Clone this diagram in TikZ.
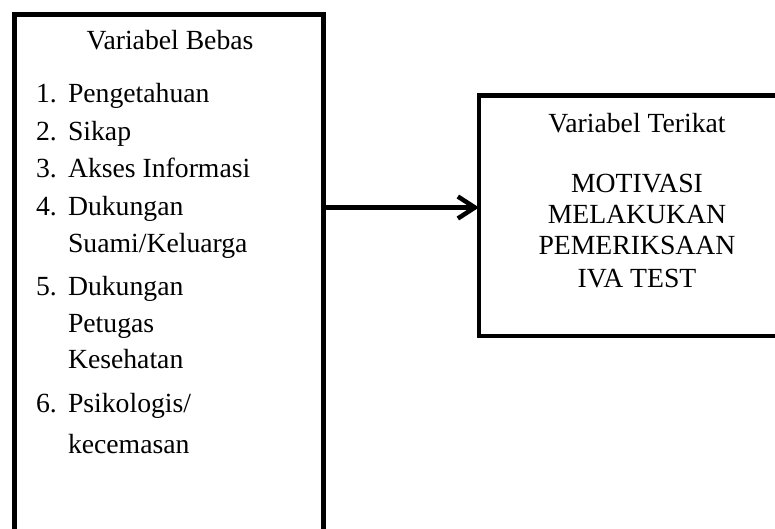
\documentclass[tikz,border=0pt]{standalone}
\usepackage{fontspec}
\setmainfont{Liberation Serif}
\usetikzlibrary{arrows.meta}
\begin{document}
\begin{tikzpicture}[x=1pt,y=-1pt,
  box/.style={draw=black, line width=4.5pt, rectangle, inner sep=0pt, outer sep=0pt},
  txt/.style={inner sep=0pt, outer sep=0pt, anchor=base west, font=\fontsize{27.7}{31}\selectfont},
  ctxt/.style={inner sep=0pt, outer sep=0pt, anchor=base, font=\fontsize{27.7}{31}\selectfont},
  arr/.style={line width=4.5pt, -{Straight Barb[length=17pt,width=22pt,line width=4.5pt]}}]
\clip (0,0) rectangle (775,529);
\fill[white] (0,0) rectangle (775,529);
% boxes
\node[box, minimum width=309pt, minimum height=560pt] (bebas) at (169,294.5) {};
\node[box, minimum width=330pt, minimum height=240.5pt] (terikat) at (644,215.75) {};
% left texts
\node[ctxt] (tb) at (170,50) {Variabel Bebas};
\node[txt] (n1) at (36,103) {1.};
\node[txt] (i1) at (68,103) {Pengetahuan};
\node[txt] (n2) at (36,141) {2.};
\node[txt] (i2) at (68,141) {Sikap};
\node[txt] (n3) at (36,178) {3.};
\node[txt] (i3) at (68,178) {Akses Informasi};
\node[txt] (n4) at (36,215) {4.};
\node[txt] (i4a) at (68,215) {Dukungan};
\node[txt] (i4b) at (68,252) {Suami/Keluarga};
\node[txt] (n5) at (36,295) {5.};
\node[txt] (i5a) at (68,295) {Dukungan};
\node[txt] (i5b) at (68,332) {Petugas};
\node[txt] (i5c) at (68,368) {Kesehatan};
\node[txt] (n6) at (36,412) {6.};
\node[txt] (i6a) at (68,412) {Psikologis/};
\node[txt] (i6b) at (68,453) {kecemasan};
% right texts
\node[ctxt] (tt) at (637,133) {Variabel Terikat};
\node[ctxt] (m1) at (637,193) {MOTIVASI};
\node[ctxt] (m2) at (637,223) {MELAKUKAN};
\node[ctxt] (m3) at (637,254) {PEMERIKSAAN};
\node[ctxt] (m4) at (637,287) {IVA TEST};
% arrow
\coordinate (a) at (bebas.east |- 0,207.5);
\draw[arr] (a) -- (a -| terikat.west);
\end{tikzpicture}
\end{document}
